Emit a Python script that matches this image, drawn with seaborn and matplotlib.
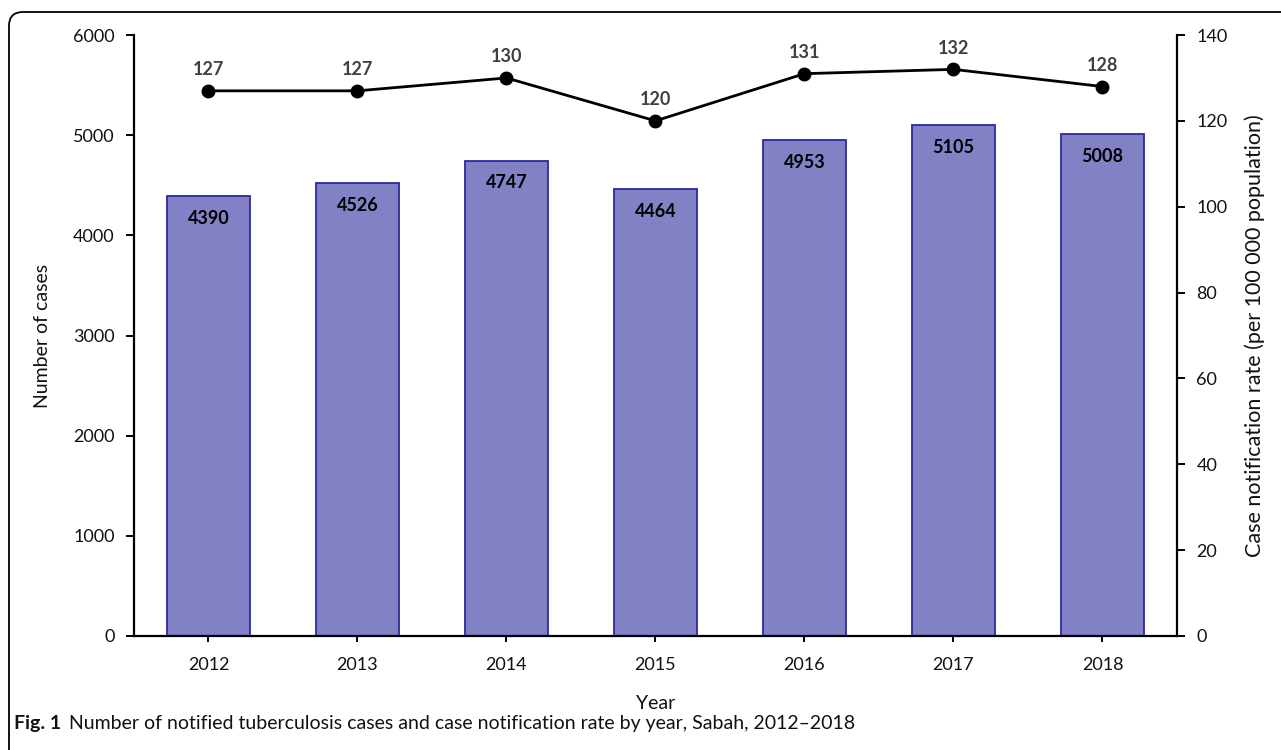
import matplotlib
matplotlib.use("Agg")
import matplotlib.pyplot as plt
from matplotlib.patches import FancyBboxPatch
from matplotlib.transforms import IdentityTransform
import seaborn as sns
import pandas as pd

years = ["2012", "2013", "2014", "2015", "2016", "2017", "2018"]
cases = [4390, 4526, 4747, 4464, 4953, 5105, 5008]
rates = [127, 127, 130, 120, 131, 132, 128]

sns.set_theme(style="white")
plt.rcParams["font.family"] = ["Lato", "DejaVu Sans"]

df = pd.DataFrame({"year": years, "cases": cases, "rate": rates})

fig = plt.figure(figsize=(12.81, 7.5), dpi=100)
ax = fig.add_axes([0.1046, 0.152, 0.8142, 0.8013])

sns.barplot(data=df, x="year", y="cases", ax=ax, color="#8281C6",
            saturation=1, width=0.56, edgecolor="#2A2A9E", linewidth=1.3)
ax.set_ylim(0, 6000)
ax.set_yticks(range(0, 6001, 1000))
ax.set_xlim(-0.5, 6.5)

for p, v in zip(ax.patches, cases):
    ax.annotate(f"{v}", (p.get_x() + p.get_width() / 2, p.get_height()),
                xytext=(0, -10), textcoords="offset points", ha="center",
                va="top", fontsize=13, fontweight="bold", color="black")

ax2 = ax.twinx()
sns.pointplot(data=df, x="year", y="rate", ax=ax2, color="black",
              markers="o", markersize=8.5, linewidth=2.0, errorbar=None)
ax2.set_ylim(0, 140)
ax2.set_yticks(range(0, 141, 20))
ax2.set_xlim(-0.5, 6.5)

for i, r in enumerate(rates):
    ax2.annotate(f"{r}", (i, r), xytext=(0, 9), textcoords="offset points",
                 ha="center", va="bottom", fontsize=13, fontweight="bold",
                 color="#404040")

for a in (ax, ax2):
    for s in a.spines.values():
        s.set_visible(False)
    a.grid(False)

ax.spines["left"].set_visible(True)
ax.spines["bottom"].set_visible(True)
ax2.spines["right"].set_visible(True)
for s in (ax.spines["left"], ax.spines["bottom"], ax2.spines["right"]):
    s.set_color("black")
    s.set_linewidth(1.6)

ax.tick_params(axis="y", which="both", direction="out", length=6, width=1.4,
               color="black", labelsize=13, labelcolor="#111111", pad=8)
ax.tick_params(axis="x", direction="out", length=4, width=1.4, color="black",
               labelsize=13, labelcolor="#111111", pad=11)
ax2.tick_params(axis="y", direction="out", length=6, width=1.4, color="black",
                labelsize=13, labelcolor="#111111", pad=8)
ax.tick_params(left=True, bottom=True)
ax2.tick_params(right=True)

ax.set_xlabel("Year", fontsize=14, labelpad=16, color="#111111")
ax.set_ylabel("Number of cases", fontsize=14, labelpad=16, color="#111111")
ax2.set_ylabel("Case notification rate (per 100 000 population)", fontsize=15.5,
               labelpad=12, color="#111111")

fig.text(0.011, 0.035, "Fig. 1", fontsize=14, fontweight="bold",
         ha="left", va="center", color="#111111")
fig.text(0.054, 0.035,
         "Number of notified tuberculosis cases and case notification rate by year, Sabah, 2012\u20132018",
         fontsize=14, ha="left", va="center", color="#111111")

frame = FancyBboxPatch((9, -30), 1320, 768, boxstyle="round,pad=0,rounding_size=14",
                       transform=IdentityTransform(), fill=False,
                       edgecolor="black", linewidth=1.3)
fig.patches.append(frame)

fig.savefig("out.png", dpi=100)
